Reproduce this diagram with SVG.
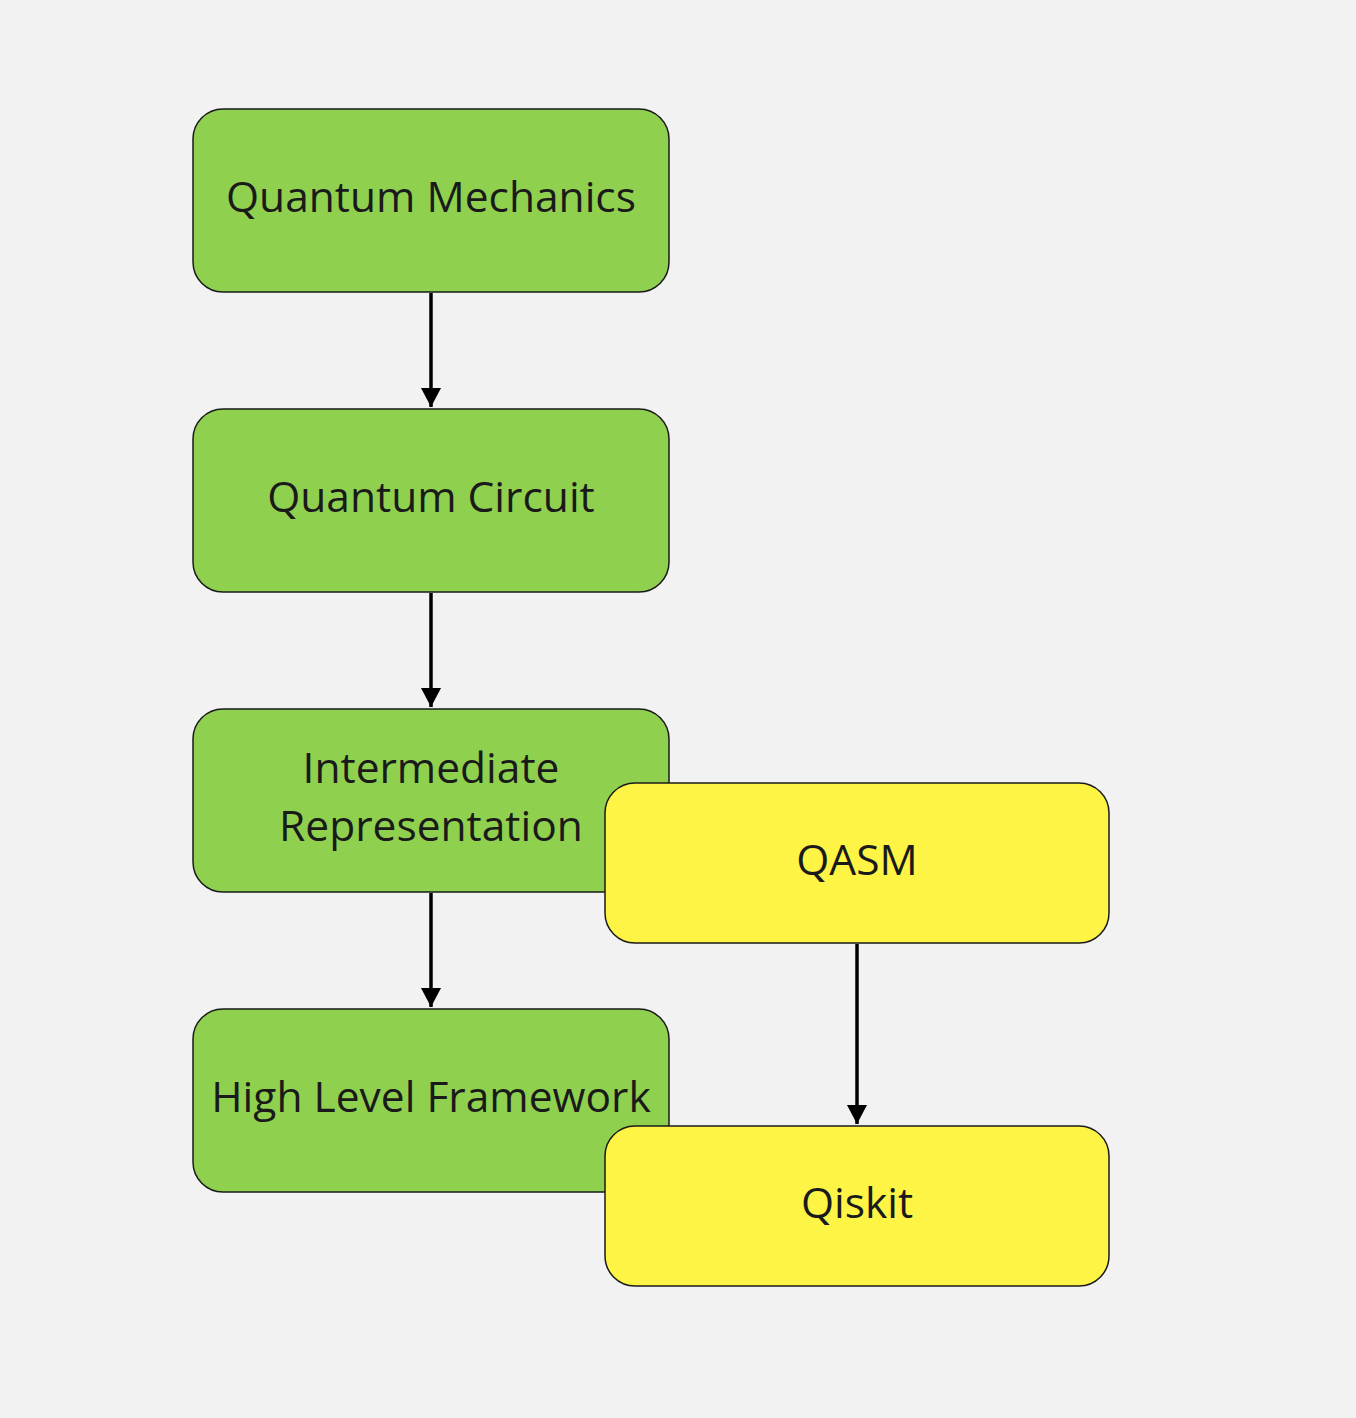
<svg xmlns="http://www.w3.org/2000/svg" width="1356" height="1418" viewBox="0 0 1356 1418">
<style>
.g{fill:#8fd14f;stroke:#1a1a1a;stroke-width:1.5}
.y{fill:#fef445;stroke:#1a1a1a;stroke-width:1.5}
.t{font-family:"Open Sans","Noto Sans",sans-serif;font-size:42.5px;fill:#1a1a1a;text-anchor:middle;dominant-baseline:central}
.c{stroke:#000;stroke-width:3.5;fill:none}
</style>
<defs>
<marker id="ah" markerWidth="19" markerHeight="20" refX="19" refY="10" orient="auto" markerUnits="userSpaceOnUse" viewBox="0 0 19 20">
<path d="M0,0 L19,10 L0,20 Z" fill="#000"/>
</marker>
</defs>
<rect width="1356" height="1418" fill="#f2f2f2"/>
<g id="n1"><rect class="g" x="193" y="109" width="476" height="183" rx="30"/><text class="t" x="431" y="195">Quantum Mechanics</text></g>
<g id="n2"><rect class="g" x="193" y="409" width="476" height="183" rx="30"/><text class="t" x="431" y="495">Quantum Circuit</text></g>
<g id="n3"><rect class="g" x="193" y="709" width="476" height="183" rx="30"/><text class="t" x="431" y="766">Intermediate</text><text class="t" x="431" y="824">Representation</text></g>
<g id="n4"><rect class="g" x="193" y="1009" width="476" height="183" rx="30"/><text class="t" x="431" y="1095">High Level Framework</text></g>
<g id="n5"><rect class="y" x="605" y="783" width="504" height="160" rx="30"/><text class="t" x="857" y="858">QASM</text></g>
<g id="n6"><rect class="y" x="605" y="1126" width="504" height="160" rx="30"/><text class="t" x="857" y="1201">Qiskit</text></g>
<g id="connectors">
<line class="c" x1="431" y1="293" x2="431" y2="407" marker-end="url(#ah)"/>
<line class="c" x1="431" y1="593" x2="431" y2="707" marker-end="url(#ah)"/>
<line class="c" x1="431" y1="893" x2="431" y2="1007" marker-end="url(#ah)"/>
<line class="c" x1="857" y1="944" x2="857" y2="1124" marker-end="url(#ah)"/>
</g>
</svg>
